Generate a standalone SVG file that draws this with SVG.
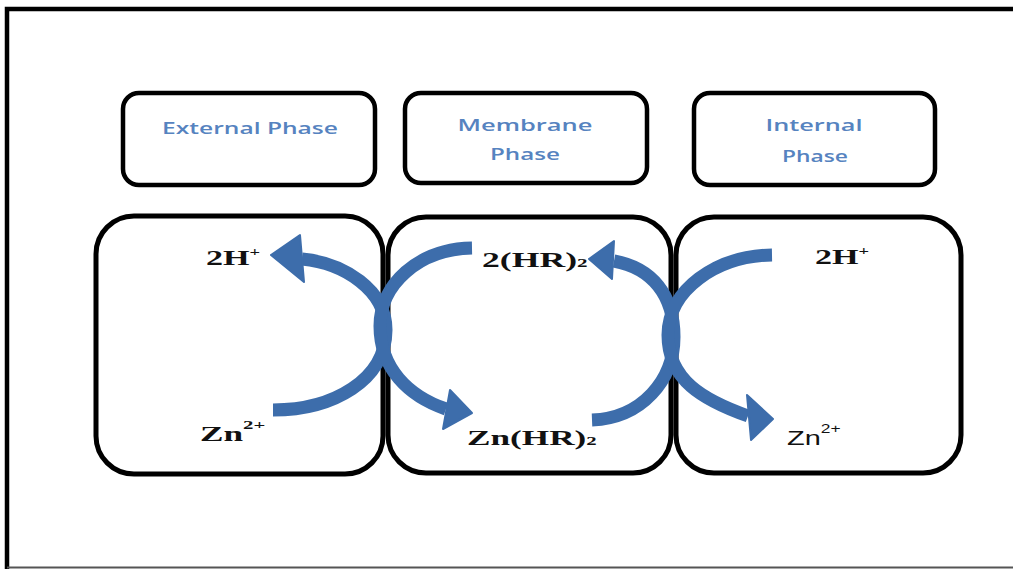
<svg xmlns="http://www.w3.org/2000/svg" width="1013" height="569" viewBox="0 0 1013 569">
<style>
.frame{fill:none;stroke:#000;stroke-width:4.5}
.hdr{fill:#fff;stroke:#000;stroke-width:4.5}
.cell{fill:none;stroke:#000;stroke-width:5}
.lbl{font-family:"Open Sans","DejaVu Sans",sans-serif;font-weight:600;font-size:16px;fill:#5683c0;text-anchor:middle}
.chem{font-family:"Liberation Serif","Times New Roman",serif;font-weight:bold;font-size:22px;fill:#111}
.chems{font-family:"Liberation Sans",Arial,sans-serif;font-size:20px;fill:#111}
.arc{fill:none;stroke:#3d6dab;stroke-width:13;stroke-linecap:butt}
.head{fill:#3d6dab;stroke:#3d6dab;stroke-width:2;stroke-linejoin:round}
</style>
<rect x="0" y="0" width="1013" height="569" fill="#fff"/>
<path class="frame" d="M7,569 V9 H1013"/>
<line x1="7" y1="567.5" x2="1013" y2="567.5" stroke="#555" stroke-width="2"/>

<g id="external-phase-label">
<rect class="hdr" x="123" y="93" width="252" height="92" rx="16"/>
<text class="lbl" x="250" y="134" textLength="176" lengthAdjust="spacingAndGlyphs">External Phase</text>
</g>
<g id="membrane-phase-label">
<rect class="hdr" x="405" y="93" width="242" height="90" rx="16"/>
<text class="lbl" x="525" y="131" textLength="135" lengthAdjust="spacingAndGlyphs">Membrane</text>
<text class="lbl" x="525" y="160" textLength="70" lengthAdjust="spacingAndGlyphs">Phase</text>
</g>
<g id="internal-phase-label">
<rect class="hdr" x="694" y="93" width="241" height="92" rx="16"/>
<text class="lbl" x="814" y="131" textLength="97" lengthAdjust="spacingAndGlyphs">Internal</text>
<text class="lbl" x="815" y="162" textLength="66" lengthAdjust="spacingAndGlyphs">Phase</text>
</g>

<g id="external-phase">
<rect class="cell" x="96" y="216" width="287" height="258" rx="38"/>
<text class="chem" transform="translate(206,265) scale(1.55,1)">2H<tspan font-size="12" dy="-9">+</tspan></text>
<text class="chem" font-size="24" transform="translate(200,441) scale(1.6,1)">Zn<tspan font-size="13" dy="-12">2+</tspan></text>
</g>
<g id="membrane-phase">
<rect class="cell" x="388" y="217" width="283" height="256" rx="38"/>
<text class="chem" transform="translate(482,267) scale(1.62,1)">2(HR)<tspan font-size="13" dy="0">2</tspan></text>
<text class="chem" transform="translate(467,445) scale(1.6,1)">Zn(HR)<tspan font-size="13" dy="0">2</tspan></text>
</g>
<g id="internal-phase">
<rect class="cell" x="676" y="217" width="285" height="256" rx="38"/>
<text class="chem" transform="translate(815,264) scale(1.55,1)">2H<tspan font-size="12" dy="-9">+</tspan></text>
<text class="chems" transform="translate(787,445) scale(1.45,1)">Zn<tspan font-size="12" dy="-12">2+</tspan></text>
</g>

<g id="connectors">
<path class="arc" d="M273,410 C333,410 386,380 386,330 C386,290 344,263 302,259"/>
<polygon class="head" points="271,255 300,235 304,282"/>
<path class="arc" d="M472,248 C418,249 380,285 380,326 C380,368 408,396 446,409"/>
<polygon class="head" points="472,413 450,390 443,429"/>
<path class="arc" d="M592,420 C642,418 674,380 674,337 C674,295 652,268 614,261"/>
<polygon class="head" points="589,259 614,241 612,279"/>
<path class="arc" d="M772,255 C716,256 668,290 668,335 C668,380 703,400 748,416"/>
<polygon class="head" points="773,419 747,395 751,440"/>
</g>
</svg>
